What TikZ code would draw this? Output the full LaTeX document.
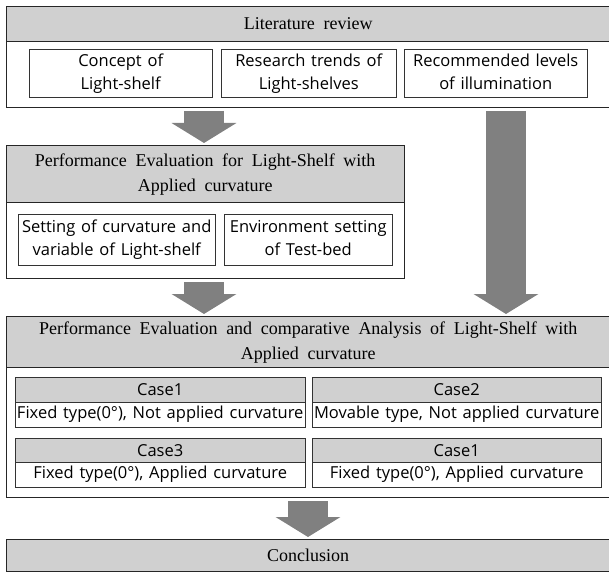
\documentclass[tikz,border=0pt]{standalone}
\usepackage{fontspec}
\setmainfont{Liberation Serif}
\newfontfamily\bandfont{Liberation Serif}
\newfontfamily\boxfont{Open Sans}
\newcommand\bandtext{\bandfont\fontsize{18}{25}\selectfont\spaceskip=0.48em plus 0.1em\relax}
\newcommand\boxtext{\boxfont\fontsize{16.5}{23}\selectfont\spaceskip=0.35em plus 0.1em\relax}
\newcommand\twolines[2]{\begin{tabular}{@{}c@{}}#1\\#2\end{tabular}}
\newcommand\bandlines[2]{\begin{tabular}{@{}c@{}}\bandtext #1\\\bandtext #2\end{tabular}}
\usetikzlibrary{arrows.meta}
\definecolor{bandgray}{RGB}{208,208,208}
\definecolor{arrowgray}{RGB}{128,128,128}
\tikzset{
  band/.style={draw=black!85, fill=bandgray, anchor=north west, inner sep=0pt, font=\bandtext},
  frame/.style={draw=black!85, fill=white, anchor=north west, inner sep=0pt},
  item/.style={draw=black!80, fill=white, anchor=north west, inner sep=0pt, font=\boxtext},
  casehead/.style={item, fill=bandgray},
  fatarrow/.style={draw=arrowgray, line width=40pt, -{Triangle[length=20pt,width=64pt]}, shorten <=4pt, shorten >=2pt}
}
\begin{document}
\begin{tikzpicture}[x=1pt,y=-1pt]
\useasboundingbox (0,0) rectangle (609,572);

\node[frame, minimum width=604pt, minimum height=101pt] (litframe) at (6,6) {};
\node[band, minimum width=604pt, minimum height=35pt] (lit) at (6,6) {Literature review};
\node[item, minimum width=183pt, minimum height=48pt] (concept) at (29,49) {\twolines{Concept of}{Light-shelf}};
\node[item, minimum width=175pt, minimum height=48pt] (trends) at (221,49) {\twolines{Research trends of}{Light-shelves}};
\node[item, minimum width=183pt, minimum height=48pt] (levels) at (404,49) {\twolines{Recommended levels}{of illumination}};

\node[frame, minimum width=398pt, minimum height=133pt] (perfframe) at (6,145) {};
\node[band, minimum width=398pt, minimum height=57pt] (perf) at (6,145) {\bandlines{Performance Evaluation for Light-Shelf with}{Applied curvature}};
\node[item, minimum width=197pt, minimum height=51pt] (curv) at (18,214) {\twolines{Setting of curvature and}{variable of Light-shelf}};
\node[item, minimum width=168pt, minimum height=51pt] (env) at (224,214) {\twolines{Environment setting}{of Test-bed}};

\node[frame, minimum width=604pt, minimum height=181pt] (evalframe) at (6,316) {};
\node[band, minimum width=604pt, minimum height=51pt] (eval) at (6,316) {\bandlines{Performance Evaluation and comparative Analysis of Light-Shelf with}{Applied curvature}};
\node[casehead, minimum width=290pt, minimum height=25pt] (caseA) at (15,377) {Case1};
\node[item, minimum width=290pt, minimum height=25pt] (caseAtxt) at (15,402) {Fixed type(0°), Not applied curvature};
\node[casehead, minimum width=289pt, minimum height=25pt] (caseB) at (312,377) {Case2};
\node[item, minimum width=289pt, minimum height=25pt] (caseBtxt) at (312,402) {Movable type, Not applied curvature};
\node[casehead, minimum width=290pt, minimum height=24pt] (caseC) at (15,438) {Case3};
\node[item, minimum width=290pt, minimum height=25pt] (caseCtxt) at (15,462) {Fixed type(0°), Applied curvature};
\node[casehead, minimum width=289pt, minimum height=24pt] (caseD) at (312,438) {Case1};
\node[item, minimum width=289pt, minimum height=25pt] (caseDtxt) at (312,462) {Fixed type(0°), Applied curvature};

\node[band, minimum width=604pt, minimum height=32pt] (concl) at (6,539) {Conclusion};

\coordinate (a1) at (204,107);
\coordinate (a2) at (204,278);
\coordinate (a3) at (506,107);
\coordinate (a4) at (308,497);
\draw[fatarrow] (a1) -- (a1 |- perf.north);
\draw[fatarrow] (a2) -- (a2 |- eval.north);
\draw[fatarrow] (a3) -- (a3 |- eval.north);
\draw[fatarrow] (a4) -- (a4 |- concl.north);
\end{tikzpicture}
\end{document}
